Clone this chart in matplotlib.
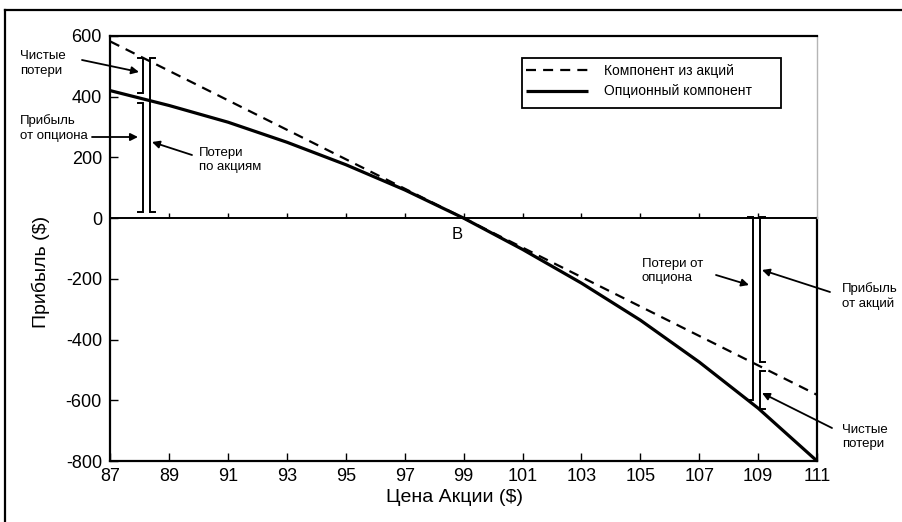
import matplotlib
matplotlib.use("Agg")
import matplotlib.pyplot as plt
from matplotlib.lines import Line2D
from matplotlib.patches import Rectangle

plt.rcParams['font.family'] = ['Liberation Sans', 'DejaVu Sans']
plt.rcParams['axes.unicode_minus'] = False

# ---- data ----
price = [87, 89, 91, 93, 95, 97, 99, 101, 103, 105, 107, 109, 111]
stock_pl = [582, 485, 388, 291, 194, 97, 0, -97, -194, -291, -388, -485, -582]
option_pl = [420, 371, 316, 250, 176, 93, 0, -103, -214, -336, -474, -626, -800]
xticks = [87, 89, 91, 93, 95, 97, 99, 101, 103, 105, 107, 109, 111]
yticks = [-800, -600, -400, -200, 0, 200, 400, 600]
legend_labels = ['Компонент из акций', 'Опционный компонент']

W, H = 902, 522
fig = plt.figure(figsize=(W / 100, H / 100), dpi=100)

def fx(px):
    return px / W

def fy(py):
    return 1 - py / H

# axes placement (pixels from top-left)
L, R, T, B = 110.3, 817, 36, 461
ax = fig.add_axes([fx(L), fy(B), fx(R) - fx(L), fy(T) - fy(B)])
ax.set_xlim(87, 111)
ax.set_ylim(-800, 600)

ax.plot(price, stock_pl, color='k', lw=1.6, linestyle=(0, (4.5, 3.2)),
        label=legend_labels[0])
ax.plot(price, option_pl, color='k', lw=2.3, label=legend_labels[1],
        solid_capstyle='butt')

ax.axhline(0, color='k', lw=1.4)
# small ticks on the zero line
ax.vlines(xticks[1:-1], 0, 16, color='k', lw=1.0)

ax.set_xticks(xticks)
ax.set_yticks(yticks)
ax.tick_params(direction='in', length=6, width=1.0, labelsize=13)
ax.tick_params(axis='x', pad=5)
ax.tick_params(axis='y', pad=6)

for s in ['left', 'bottom', 'top']:
    ax.spines[s].set_linewidth(1.6)
ax.spines['right'].set_visible(False)
zero_frac = (0 - (-800)) / 1400
ax.plot([1, 1], [0, zero_frac], transform=ax.transAxes, color='k', lw=1.6,
        clip_on=False)
ax.plot([1, 1], [zero_frac, 1], transform=ax.transAxes, color='#b5b5b5',
        lw=1.0, clip_on=False)

# legend
leg = ax.legend(loc='upper left', bbox_to_anchor=((521.7 - L) / (R - L), (B - 60) / (B - T)),
                frameon=False, fontsize=10, handlelength=4.5, handletextpad=1.1,
                borderaxespad=0, borderpad=0.3, labelspacing=0.45)
ax.add_patch(Rectangle(((521.7 - L) / (R - L), (B - 108) / (B - T)),
                       (781 - 521.7) / (R - L), (108 - 58) / (B - T),
                       transform=ax.transAxes, fill=False, ec='k', lw=1.3))

# axis labels
fig.text(fx(455), fy(498), 'Цена Акции ($)', ha='center', va='center', fontsize=14)
fig.text(fx(41), fy(272), 'Прибыль ($)', ha='center', va='center', fontsize=14,
         rotation=90)

# brackets
def bracket(x, y0, y1, side, w=0.17):
    ax.plot([x + side * w, x, x, x + side * w], [y0, y0, y1, y1], color='k',
            lw=1.4, solid_joinstyle='miter', clip_on=False)

bracket(88.1, 527, 412, -1)
bracket(88.1, 379, 20, -1)
bracket(88.36, 527, 20, 1)
bracket(108.82, 5, -598, -1)
bracket(109.07, 5, -474, 1)
bracket(109.07, -504, -628, 1)

ax.text(98.78, -54, 'B', ha='center', va='center', fontsize=12)

# annotation texts and arrows (pixel positions)
texts = [
    (20, 63.5, 'Чистые\nпотери'),
    (20, 128, 'Прибыль\nот опциона'),
    (199, 160, 'Потери\nпо акциям'),
    (642, 271, 'Потери от\nопциона'),
    (842, 296, 'Прибыль\nот акций'),
    (842, 437, 'Чистые\nпотери'),
]
for px, py, t in texts:
    fig.text(fx(px), fy(py), t, ha='left', va='center', fontsize=9.5,
             linespacing=1.3)

arrows = [
    ((82, 60), (139, 72)),
    ((92, 137), (138, 137)),
    ((192, 155), (152, 142)),
    ((716, 275), (749, 285)),
    ((830, 292), (762, 270)),
    ((832, 428), (762, 393)),
]
for (x0, y0), (x1, y1) in arrows:
    ax.annotate('', xy=(fx(x1), fy(y1)), xycoords='figure fraction',
                xytext=(fx(x0), fy(y0)), textcoords='figure fraction',
                arrowprops=dict(arrowstyle='-|>', color='k', lw=1.3,
                                mutation_scale=11, shrinkA=0, shrinkB=0))

# outer frame (top and left edges of the scan)
fig.add_artist(Line2D([fx(5), 1], [fy(10), fy(10)], color='k', lw=1.6))
fig.add_artist(Line2D([fx(5), fx(5)], [fy(10), 0], color='k', lw=1.6))

fig.savefig('out.png', dpi=100)
